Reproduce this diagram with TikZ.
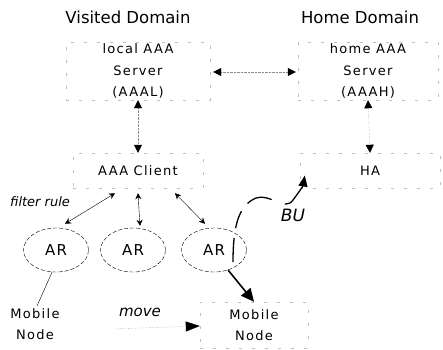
\documentclass[tikz,border=0pt]{standalone}
\usepackage{fontspec}
\setmainfont{DejaVu Sans}
\usetikzlibrary{arrows.meta,shapes.geometric,calc}
\begin{document}
\begin{tikzpicture}[x=1pt,y=-1pt,
  title/.style={font=\fontsize{16.5}{18}\selectfont},
  lbl/.style={font=\fontsize{13}{21.5}\selectfont\addfontfeatures{LetterSpace=10}, align=center},
  dbox/.style={lbl, draw=black!25, dash pattern=on 3pt off 10pt, inner sep=0pt},
  arnode/.style={ellipse, draw, dash pattern=on 4pt off 2pt, minimum width=65pt, minimum height=44pt, font=\fontsize{15}{16}\selectfont\addfontfeatures{LetterSpace=8}, inner sep=0pt},
  dotarrow/.style={densely dotted, draw=black!45, {Triangle[length=8pt,width=8pt,black]}-{Triangle[length=8pt,width=8pt,black]}},
  thinarrow/.style={thin, {Stealth[length=6pt,width=6pt]}-{Stealth[length=6pt,width=6pt]}},
  itl/.style={font=\itshape\fontsize{13}{14}\selectfont}
]
\useasboundingbox (0,0) rectangle (443,349);

\node[title] (vd) at (128,17) {Visited Domain};
\node[title] (hd) at (360,17) {Home Domain};

\node[dbox, minimum width=144pt, minimum height=58pt] (aaal) at (138,71) {local AAA\\Server\\(AAAL)};
\node[dbox, minimum width=140pt, minimum height=58pt] (aaah) at (368,71) {home AAA\\Server\\(AAAH)};
\node[dbox, minimum width=130pt, minimum height=35pt] (client) at (138,170.5) {AAA Client};
\node[dbox, minimum width=140pt, minimum height=35pt] (ha) at (370,170.5) {HA};

\node[arnode] (ar1) at (56,250) {AR};
\node[arnode] (ar2) at (133,250) {AR};
\node[arnode] (ar3) at (214,250) {AR};

\node[lbl, inner sep=0pt] (mn1) at (35,324) {Mobile\\Node};
\node[dbox, minimum width=108pt, minimum height=46pt] (mn2) at (254,325) {Mobile\\Node};

\node[itl] (fr) at (40,202) {filter rule};
\node[itl, font=\itshape\fontsize{15}{16}\selectfont] (mv) at (140,312) {move};

% connectors
\draw[dotarrow] ($(aaal.east)+(3,1)$) -- ($(aaah.west)+(-2,1)$);
\draw[dotarrow] (client.north) -- (aaal.south);
\draw[dotarrow] (ha.north) -- (aaah.south);

\draw[thinarrow] ($(client.south)+(-23,5)$) -- ($(ar1.north)+(9,-4)$);
\draw[thinarrow] ($(client.south)+(0,5)$) -- ($(ar2.north)+(7,-2)$);
\draw[thinarrow] ($(client.south)+(37,5)$) -- ($(ar3.north)+(-9,-4)$);

\draw[thin] (ar1.-100) -- ($(mn1.north)+(2,-2)$);

\draw[line width=1.6pt, -{Triangle[length=13pt,width=12pt]}] (ar3.-55) -- (mn2.north);

\draw[densely dotted, draw=black!45, -{Triangle[length=14pt,width=10pt,black]}] ($(mv.south west)+(0,9)$) -- ($(mn2.west)+(0,1)$);

% BU
\draw[line width=1.3pt, dash pattern=on 24pt off 10pt on 18pt off 10pt on 26pt off 14pt on 40pt, -{Triangle[length=11pt,width=9pt]}]
  ($(ar3.center)+(19,12)$) .. controls (233,222) and (240,205) .. (256,198)
  .. controls (270,193) and (285,212) .. (293,200)
  .. controls (299,192) and (303,186) .. ($(ha.west)+(5,5)$);
\node[itl, font=\itshape\fontsize{17}{18}\selectfont, fill=white, inner sep=1pt] (bu) at (293,215) {BU};
\end{tikzpicture}
\end{document}
